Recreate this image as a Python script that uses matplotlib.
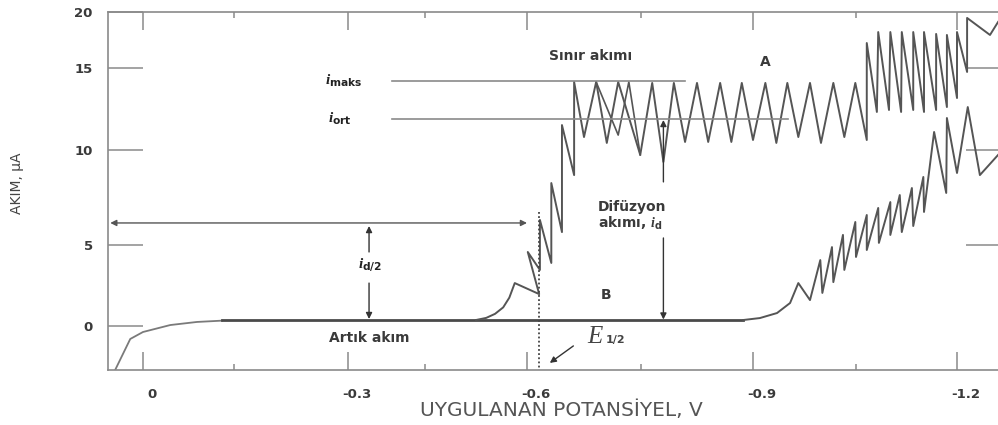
import numpy as np
import matplotlib
matplotlib.use('Agg')
import matplotlib.pyplot as plt
from matplotlib import font_manager
from matplotlib.ticker import NullLocator
from matplotlib.transforms import ScaledTranslation

# Achsen der Vorlage sind nicht gleichmaessig geteilt -> stueckweise lineare Skalen
V_KNOTS = np.array([-1.5, -1.2, -1.05, -0.9, -0.75, -0.6, -0.45, -0.3, -0.15, 0.0, 0.2])
X_POS = -np.array([1159, 957, 856, 753, 641, 527, 425, 348, 234, 143, 21.7])
I_KNOTS = np.array([-10.0, 0.0, 5.0, 10.0, 15.0, 20.0, 30.0])
Y_POS = -np.array([488, 326, 245, 150, 68, 12, -100])

# Ticks
x_major = [0.0, -0.3, -0.6, -0.9, -1.2]
x_labels = ['0', '-0.3', '-0.6', '-0.9', '-1.2']
x_minor = [-0.15, -0.45, -0.75, -1.05]
y_major = [0, 5, 10, 15, 20]
y_labels = ['0', '5', '10', '15', '20']

# Reststrom (Anfang links)
residual_v = [0.046, 0.021, 0.0, -0.045, -0.089, -0.130]
residual_i = [-2.72, -0.80, -0.37, 0.06, 0.25, 0.33]
base_v = [-0.130, -0.887]
base_i = [0.35, 0.35]

# Kurve A (Polarogramm mit Stufe)
wave_a_v = [-0.525, -0.540, -0.553, -0.565, -0.574, -0.582, -0.616, -0.601, -0.617, -0.617, -0.632,
            -0.632, -0.646, -0.646, -0.662, -0.662,
            -0.675, -0.691, -0.705, -0.720, -0.749, -0.765, -0.780, -0.794, -0.809, -0.825,
            -0.840, -0.856, -0.871, -0.885, -0.900, -0.918, -0.934, -0.950, -0.966, -0.983,
            -0.999, -1.017, -1.033, -1.049, -1.066,
            -1.066, -1.081, -1.083, -1.099, -1.101, -1.117, -1.118, -1.135, -1.135, -1.151,
            -1.151, -1.169, -1.169, -1.185, -1.185, -1.200, -1.200, -1.215, -1.215, -1.249, -1.261]
wave_a_i = [0.37, 0.50, 0.75, 1.15, 1.75, 2.65, 1.97, 4.57, 3.46, 6.32, 3.89,
            8.26, 5.68, 11.52, 8.68, 14.15,
            10.79, 14.15, 10.43, 14.15, 9.74, 14.09, 9.37, 14.09, 10.49, 14.09,
            10.49, 14.09, 10.49, 14.09, 10.61, 14.09, 10.43, 14.09, 10.79, 14.09,
            10.43, 14.09, 10.79, 14.09, 10.61,
            17.23, 12.32, 18.21, 12.44, 18.21, 12.32, 18.21, 12.44, 18.21, 12.32,
            18.21, 12.44, 18.04, 12.62, 17.95, 13.17, 18.21, 14.76, 19.47, 17.95, 19.11]
overlay_a_v = [-0.691, -0.720, -0.734, -0.749]
overlay_a_i = [14.15, 10.91, 14.15, 9.74]

# Kurve B (zweite Welle rechts)
wave_b_v = [-0.887, -0.910, -0.935, -0.954, -0.966, -0.983,
            -0.998, -1.001, -1.015, -1.017, -1.031, -1.033, -1.049, -1.050, -1.066, -1.066,
            -1.083, -1.084, -1.101, -1.101, -1.115, -1.118, -1.133, -1.135, -1.150, -1.151,
            -1.166, -1.184, -1.185, -1.200, -1.216, -1.234, -1.261]
wave_b_i = [0.37, 0.49, 0.80, 1.42, 2.65, 1.60,
            4.07, 2.04, 4.87, 2.71, 5.53, 3.46, 6.21, 4.26, 6.58, 4.69,
            6.95, 5.11, 7.26, 5.53, 7.63, 5.68, 8.00, 6.00, 8.58, 6.74,
            11.10, 7.74, 11.95, 8.79, 12.62, 8.68, 9.74]


def x_fwd(v):
    return np.interp(v, V_KNOTS, X_POS)


def x_inv(t):
    return np.interp(t, X_POS, V_KNOTS)


def y_fwd(i):
    return np.interp(i, I_KNOTS, Y_POS)


def y_inv(t):
    return np.interp(t, Y_POS, I_KNOTS)


installed = {f.name for f in font_manager.fontManager.ttflist}
narrow = 'Liberation Sans Narrow' if 'Liberation Sans Narrow' in installed else 'DejaVu Sans'

plt.rcParams['font.family'] = ['DejaVu Sans']
plt.rcParams['mathtext.fontset'] = 'custom'
plt.rcParams['mathtext.it'] = 'Liberation Serif:italic:bold'
plt.rcParams['mathtext.rm'] = 'DejaVu Sans:bold'

LINE = '#8a8a8a'
CURVE = '#555555'
TXT = '#3a3a3a'

fig = plt.figure(figsize=(9.98, 4.25), dpi=100)
ax = fig.add_axes([108 / 998, 55 / 425, 893 / 998, 358 / 425])
ax.set_xscale('function', functions=(x_fwd, x_inv))
ax.set_yscale('function', functions=(y_fwd, y_inv))
ax.set_xlim(x_inv(-108), x_inv(-1001))
ax.set_ylim(y_inv(-370), 20)

for sp in ax.spines.values():
    sp.set_color(LINE)
    sp.set_linewidth(1.2)

ax.set_xticks(x_major)
ax.set_xticklabels(x_labels)
ax.set_xticks(x_minor, minor=True)
ax.set_yticks(y_major)
ax.set_yticklabels(y_labels)
ax.yaxis.set_minor_locator(NullLocator())
ax.tick_params(axis='x', which='major', direction='in', top=True, length=13, width=1.1,
               color=LINE, pad=13, labelsize=9.5, labelcolor=TXT)
ax.tick_params(axis='x', which='minor', direction='in', top=True, length=4, width=1.1, color=LINE)
ax.tick_params(axis='y', which='major', direction='in', right=True, length=25, width=1.1,
               color=LINE, pad=11, labelsize=9.5, labelcolor=TXT)
for lbl in ax.get_xticklabels() + ax.get_yticklabels():
    lbl.set_fontweight('bold')
shift = ScaledTranslation(0.09, 0, fig.dpi_scale_trans)
for lbl in ax.get_xticklabels():
    lbl.set_transform(lbl.get_transform() + shift)
for tick, val in zip(ax.yaxis.get_major_ticks(), y_major):
    if val in (0, 20):
        tick.tick2line.set_visible(False)

# Kurven
ax.plot(residual_v, residual_i, color='#7a7a7a', lw=1.3)
ax.plot(base_v, base_i, color='#4a4a4a', lw=2.0)
ax.plot(wave_a_v, wave_a_i, color=CURVE, lw=1.4)
ax.plot(overlay_a_v, overlay_a_i, color=CURVE, lw=1.2)
ax.plot(wave_b_v, wave_b_i, color=CURVE, lw=1.4)

# Hilfslinien und Pfeile
ax.plot([-0.386, -0.809], [14.21, 14.21], color=LINE, lw=1.2)
ax.plot([-0.386, -0.951], [11.89, 11.89], color=LINE, lw=1.2)
ax.plot([-0.616, -0.616], [6.74, -2.72], color='#444444', lw=1.3, ls=(0, (1, 1.3)))

arr = dict(arrowstyle='-|>', color='#333333', lw=1.0, mutation_scale=9, shrinkA=0, shrinkB=0)
ax.annotate('', xy=(0.054, 6.16), xytext=(-0.600, 6.16),
            arrowprops=dict(arr, arrowstyle='<|-|>', color='#555555'))
ax.annotate('', xy=(-0.341, 6.0), xytext=(-0.341, 4.57), arrowprops=arr)
ax.annotate('', xy=(-0.341, 0.43), xytext=(-0.341, 2.65), arrowprops=arr)
ax.annotate('', xy=(-0.780, 11.83), xytext=(-0.780, 8.32), arrowprops=arr)
ax.annotate('', xy=(-0.780, 0.40), xytext=(-0.780, 5.37), arrowprops=arr)
ax.annotate('', xy=(-0.630, -2.28), xytext=(-0.661, -1.23), arrowprops=arr)

# Beschriftungen
ax.text(-0.683, 16.07, 'Sınır akımı', ha='center', va='center', fontsize=10, color=TXT, fontweight='bold')
ax.text(-0.918, 15.54, 'A', ha='center', va='center', fontsize=10, color=TXT, fontweight='bold')
ax.text(-0.270, 14.21, r'$i_{\mathrm{maks}}$', ha='left', va='center', fontsize=11, color='#222222')
ax.text(-0.274, 11.89, r'$i_{\mathrm{ort}}$', ha='left', va='center', fontsize=11, color='#222222')
ax.text(-0.343, 3.76, r'$i_{\mathrm{d/2}}$', ha='center', va='center', fontsize=11, color='#222222')
ax.text(-0.693, 7.0, 'Difüzyon', ha='left', va='center', fontsize=10, color=TXT, fontweight='bold')
ax.text(-0.693, 6.16, r'akımı, $i_{\mathrm{d}}$', ha='left', va='center', fontsize=10, color=TXT,
        fontweight='bold')
ax.text(-0.704, 1.91, 'B', ha='center', va='center', fontsize=10, color=TXT, fontweight='bold')
ax.text(-0.341, -0.74, 'Artık akım', ha='center', va='center', fontsize=10, color=TXT, fontweight='bold')
ax.text(-0.679, -0.68, 'E', ha='left', va='center', fontsize=18, color='#444444',
        family='Liberation Serif', style='italic')
ax.text(-0.703, -0.88, '1/2', ha='left', va='center', fontsize=8, color='#444444', fontweight='bold')

ax.set_xlabel('UYGULANAN POTANSİYEL, V', fontsize=14.5, color='#555555')
ax.xaxis.set_label_coords(0.508, -0.112)
ax.xaxis.label.set_va('center')
ax.set_ylabel('AKIM, μA', fontsize=10, color='#444444', family=narrow)
ax.yaxis.set_label_coords(-0.102, 0.522)
ax.yaxis.label.set_va('center')

fig.savefig('out.png', dpi=100)
